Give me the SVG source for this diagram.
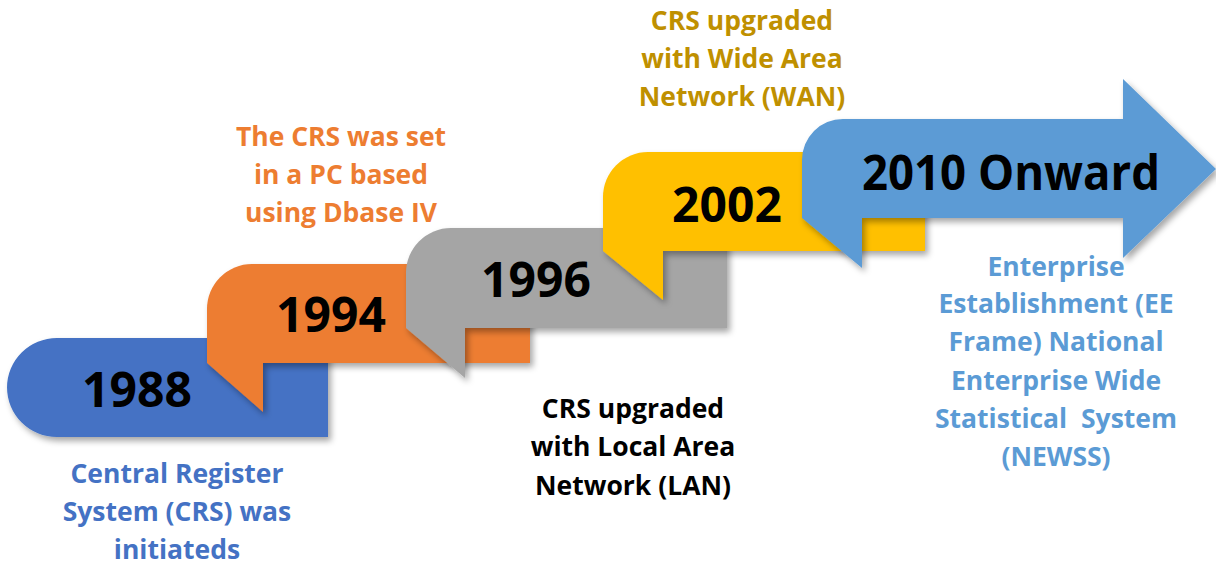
<svg xmlns="http://www.w3.org/2000/svg" width="1216" height="566" viewBox="0 0 1216 566">
<defs>
<filter id="sh" x="-10%" y="-10%" width="130%" height="140%">
<feDropShadow dx="3" dy="4" stdDeviation="3" flood-color="#000" flood-opacity="0.35"/>
</filter>
<style>
.yr{font-family:"Open Sans","Liberation Sans",sans-serif;font-weight:700;font-size:48px;fill:#000;text-anchor:middle}
.lb{font-family:"Open Sans","Liberation Sans",sans-serif;font-weight:700;font-size:26.5px;text-anchor:middle}
</style>
</defs>
<g id="n1988" filter="url(#sh)">
<path d="M57,338 H328 V437 H57 A50,49.5 0 0 1 57,338 Z" fill="#4472C4"/>
</g>
<g id="n1994" filter="url(#sh)">
<path d="M207,363 V309 A45,45 0 0 1 252,264 H530 V363 Z" fill="#ED7D31"/>
<path d="M207,363 H263 V412 Z" fill="#ED7D31"/>
</g>
<g id="n1996" filter="url(#sh)">
<path d="M406,328 V273 A45,45 0 0 1 451,228 H727 V328 Z" fill="#A5A5A5"/>
<path d="M406,328 H465 V378 Z" fill="#A5A5A5"/>
</g>
<g id="n2002" filter="url(#sh)">
<path d="M603,251 V197 A45,45 0 0 1 648,152 H925 V251 Z" fill="#FFC000"/>
<path d="M603,251 H663 V300 Z" fill="#FFC000"/>
</g>
<g id="n2010" filter="url(#sh)">
<path d="M802,218 V160 A41,41 0 0 1 843,119 H1123 V79 L1216,169 L1123,258 V218 Z" fill="#5B9BD5"/>
<path d="M802,218 H862 V268 Z" fill="#5B9BD5"/>
</g>
<g id="connectors"></g>
<g id="years">
<text class="yr" x="137" y="407">1988</text>
<text class="yr" x="331" y="332">1994</text>
<text class="yr" x="536" y="297">1996</text>
<text class="yr" x="727" y="222">2002</text>
<text class="yr" x="1011" y="190" textLength="298" lengthAdjust="spacingAndGlyphs">2010 Onward</text>
</g>
<g id="label1988">
<text class="lb" fill="#4472C4" x="177" y="483">Central Register</text>
<text class="lb" fill="#4472C4" x="177" y="521">System (CRS) was</text>
<text class="lb" fill="#4472C4" x="177" y="559">initiateds</text>
</g>
<g id="label1994">
<text class="lb" fill="#ED7D31" x="341" y="146">The CRS was set</text>
<text class="lb" fill="#ED7D31" x="341" y="184">in a PC based</text>
<text class="lb" fill="#ED7D31" x="341" y="222">using Dbase IV</text>
</g>
<g id="label1996">
<text class="lb" fill="#000" x="633" y="418">CRS upgraded</text>
<text class="lb" fill="#000" x="633" y="456">with Local Area</text>
<text class="lb" fill="#000" x="633" y="495">Network (LAN)</text>
</g>
<g id="label2002">
<text class="lb" fill="#BF9000" x="742" y="30">CRS upgraded</text>
<text class="lb" fill="#BF9000" x="742" y="68">with Wide Area</text>
<text class="lb" fill="#BF9000" x="742" y="106">Network (WAN)</text>
</g>
<g id="label2010">
<text class="lb" fill="#5B9BD5" x="1056" y="276">Enterprise</text>
<text class="lb" fill="#5B9BD5" x="1056" y="313">Establishment (EE</text>
<text class="lb" fill="#5B9BD5" x="1056" y="351">Frame) National</text>
<text class="lb" fill="#5B9BD5" x="1056" y="390">Enterprise Wide</text>
<text class="lb" fill="#5B9BD5" x="1056" y="428" xml:space="preserve">Statistical  System</text>
<text class="lb" fill="#5B9BD5" x="1056" y="466">(NEWSS)</text>
</g>
</svg>
